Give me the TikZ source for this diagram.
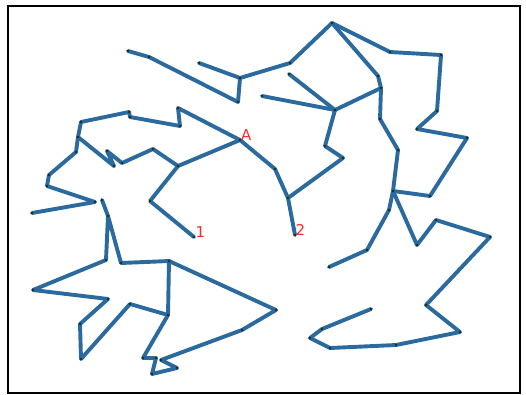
\documentclass[tikz,border=0pt]{standalone}
\usepackage{fontspec}
\setsansfont{DejaVu Sans}
\usetikzlibrary{positioning}
\definecolor{walkblue}{HTML}{2B6A9F}
\definecolor{walkdot}{HTML}{1B2E1B}
\definecolor{walkred}{HTML}{FF2A2A}

\begin{document}
\begin{tikzpicture}[
  x=1pt, y=-1pt,
  edge/.style={walkblue, line width=3.9pt, line join=round, line cap=round},
  lbl/.style={text=walkred, font=\sffamily\fontsize{15}{15}\selectfont, inner sep=0pt, anchor=base west},
]
\useasboundingbox (0,0) rectangle (526,394);
\draw[line width=2pt] (8,5.5) rectangle (520,392.5);

% upper strand
\coordinate (x1) at (128,51);  \coordinate (x2) at (149,57);
\coordinate (x3) at (238,102); \coordinate (x4) at (240,78);
\coordinate (x5) at (199,63);  \coordinate (x6) at (290,63);
\coordinate (top) at (332,23);
% right loop
\coordinate (r1) at (390,52);  \coordinate (r2) at (441,55);
\coordinate (r3) at (437,111); \coordinate (r4) at (417,129);
\coordinate (r5) at (467,138); \coordinate (r6) at (430,196);
\coordinate (hub) at (393,191);
% middle fan
\coordinate (m1) at (378,76);  \coordinate (m2) at (381,88);
\coordinate (c) at (335,110);  \coordinate (m3) at (289,74);
\coordinate (m4) at (262,96);  \coordinate (m5) at (325,146);
\coordinate (m6) at (343,158); \coordinate (j) at (288,198);
\coordinate (two) at (295,235); \coordinate (k) at (275,169);
\coordinate (m7) at (380,119); \coordinate (m8) at (398,150);
% below hub
\coordinate (s1) at (389,210); \coordinate (s2) at (367,250);
\coordinate (s3) at (329,267);
\coordinate (b1) at (417,245); \coordinate (b2) at (436,220);
\coordinate (b3) at (490,237); \coordinate (b4) at (426,305);
\coordinate (b5) at (460,332); \coordinate (b6) at (396,345);
\coordinate (b7) at (330,348); \coordinate (b8) at (310,338);
\coordinate (b9) at (322,329); \coordinate (b10) at (371,309);
% left of A
\coordinate (A) at (240,140);
\coordinate (l1) at (178,108); \coordinate (l2) at (180,126);
\coordinate (l3) at (130,117); \coordinate (l4) at (129,112);
\coordinate (l5) at (81,122);  \coordinate (l6) at (78,137);
\coordinate (l7) at (76,152);  \coordinate (l8) at (49,175);
\coordinate (l9) at (47,186);  \coordinate (l10) at (95,202);
\coordinate (l11) at (32,213);
\coordinate (z1) at (114,166); \coordinate (z2) at (107,151);
\coordinate (z3) at (122,163); \coordinate (z4) at (153,149);
\coordinate (f) at (178,166);  \coordinate (g) at (150,201);
\coordinate (one) at (194,237);
% lower left
\coordinate (d1) at (102,200); \coordinate (d2) at (108,216);
\coordinate (d3) at (106,260); \coordinate (d4) at (33,290);
\coordinate (d5) at (108,299); \coordinate (d6) at (80,324);
\coordinate (d7) at (81,359);  \coordinate (d8) at (130,304);
\coordinate (d9) at (168,315); \coordinate (d10) at (169,261);
\coordinate (d11) at (121,263); \coordinate (d12) at (276,310);
\coordinate (d13) at (242,330); \coordinate (d14) at (161,360);
\coordinate (d15) at (177,368); \coordinate (d16) at (152,374);
\coordinate (d17) at (156,358); \coordinate (d18) at (143,358);

\draw[edge] (x1) -- (x2) -- (x3) -- (x4) -- (x5);
\draw[edge] (x4) -- (x6) -- (top);
\draw[edge] (top) -- (r1) -- (r2) -- (r3) -- (r4) -- (r5) -- (r6) -- (hub);
\draw[edge] (top) -- (m1) -- (m2) -- (c);
\draw[edge] (m3) -- (c);
\draw[edge] (m4) -- (c);
\draw[edge] (c) -- (m5) -- (m6) -- (j) -- (two);
\draw[edge] (m2) -- (m7) -- (m8) -- (hub);
\draw[edge] (hub) -- (s1) -- (s2) -- (s3);
\draw[edge] (hub) -- (b1) -- (b2) -- (b3) -- (b4) -- (b5) -- (b6) -- (b7) -- (b8) -- (b9) -- (b10);
\draw[edge] (j) -- (k) -- (A);
\draw[edge] (A) -- (l1) -- (l2) -- (l3) -- (l4) -- (l5) -- (l6) -- (l7) -- (l8) -- (l9) -- (l10) -- (l11);
\draw[edge] (l6) -- (z1) -- (z2) -- (z3) -- (z4) -- (f) -- (A);
\draw[edge] (f) -- (g) -- (one);
\draw[edge] (d1) -- (d2) -- (d3) -- (d4) -- (d5) -- (d6) -- (d7) -- (d8) -- (d9) -- (d10) -- (d11) -- (d2);
\draw[edge] (d10) -- (d12) -- (d13) -- (d14) -- (d15) -- (d16) -- (d17) -- (d18) -- (d9);

% vertex dots
\foreach \p in {x1,x2,x3,x4,x5,x6,top,r1,r2,r3,r4,r5,r6,hub,m1,m2,c,m3,m4,m5,m6,j,two,k,m7,m8,
  s1,s2,s3,b1,b2,b3,b4,b5,b6,b7,b8,b9,b10,A,l1,l2,l3,l4,l5,l6,l7,l8,l9,l10,l11,z1,z2,z3,z4,f,g,one,
  d1,d2,d3,d4,d5,d6,d7,d8,d9,d10,d11,d12,d13,d14,d15,d16,d17,d18}
  \fill[walkdot] (\p) circle (1.3pt);

\node[lbl] (labA) at ([xshift=1pt]A) {A};
\node[lbl] (lab1) at ([xshift=1.5pt]one) {1};
\node[lbl] (lab2) at ([xshift=0.5pt]two) {2};
\end{tikzpicture}
\end{document}
